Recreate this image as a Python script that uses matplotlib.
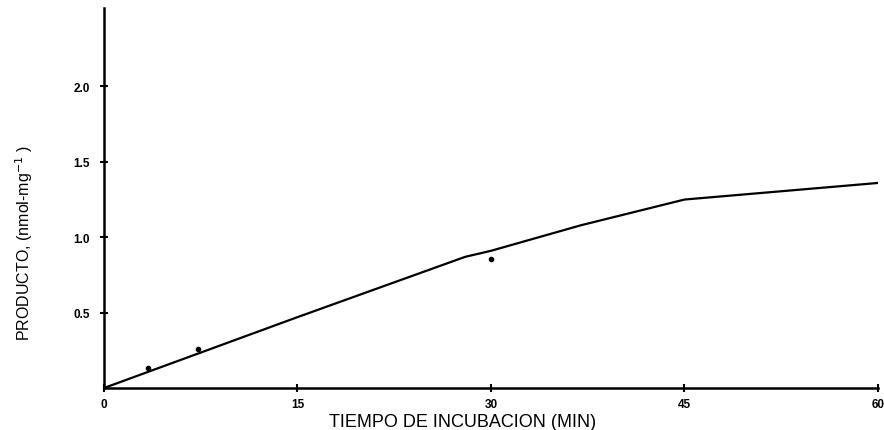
import matplotlib
matplotlib.use("Agg")
import matplotlib.pyplot as plt

# Incubation time course of product formation
curve_time = [0, 15, 28, 30, 37, 45, 60]
curve_product = [0, 0.47, 0.87, 0.91, 1.08, 1.25, 1.36]

point_time = [3.4, 7.3, 30]
point_product = [0.13, 0.26, 0.855]

xticks = [0, 15, 30, 45, 60]
yticks = [0.5, 1.0, 1.5, 2.0]

plt.rcParams['font.family'] = ['Liberation Sans', 'DejaVu Sans']

fig = plt.figure(figsize=(8.84, 4.31), dpi=100)
ax = fig.add_axes([0.1176, 0.0974, 0.8756, 0.8816])

ax.plot(curve_time, curve_product, color='black', lw=1.6, solid_joinstyle='round')
ax.plot(point_time, point_product, 'o', color='black', ms=3)

ax.set_xlim(0, 60)
ax.set_ylim(0, 2.52)
ax.set_xticks(xticks)
ax.set_xticklabels([str(t) for t in xticks])
ax.set_yticks(yticks)
ax.set_yticklabels([f"{v:.1f}" for v in yticks])

for side in ('top', 'right'):
    ax.spines[side].set_visible(False)
for side in ('left', 'bottom'):
    ax.spines[side].set_linewidth(1.8)

ax.tick_params(direction='inout', length=6, width=1.5, labelsize=8.5)
ax.tick_params(axis='x', pad=4)
ax.tick_params(axis='y', pad=7)
for lab in ax.get_xticklabels() + ax.get_yticklabels():
    lab.set_fontweight('bold')

ax.set_xlabel('TIEMPO DE INCUBACION (MIN)', fontsize=13, va='center')
ax.xaxis.set_label_coords(0.463, -0.088)
ax.set_ylabel('PRODUCTO, (nmol-mg$^{-1}$ )', fontsize=11.5, va='center')
ax.yaxis.set_label_coords(-0.103, 0.384)

fig.savefig('out.png', dpi=100)
